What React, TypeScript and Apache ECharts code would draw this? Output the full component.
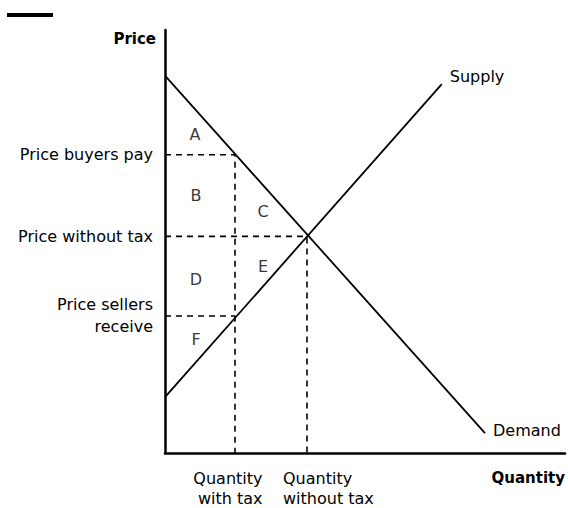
import React, { useEffect, useRef } from "react";
import * as echarts from "echarts";

// Curves (quantity, price) in abstract units 0..100
const demandPoints = [[0, 89.2], [80, 4.7]];
const supplyPoints = [[0, 13.2], [69.2, 87.2]];

// Key prices and quantities
const priceBuyersPay = 70.5;
const priceWithoutTax = 51.2;
const priceSellersReceive = 32.4;
const quantityWithTax = 17.5;
const quantityWithoutTax = 35.5;

const priceTickValues = [priceSellersReceive, priceWithoutTax, priceBuyersPay];
const priceTickLabels = ["Price sellers\nreceive", "Price without tax", "Price buyers pay"];
const quantityWithTaxLabel = ["Quantity", "with tax"];
const quantityWithoutTaxLabel = ["Quantity", "without tax"];

const areaLetters = ["A", "B", "C", "D", "E", "F"];
const areaLetterPositions = [
  [7.5, 75.2],
  [7.75, 60.8],
  [24.5, 57.0],
  [7.75, 41.0],
  [24.5, 44.2],
  [7.75, 26.8],
];

const FONT = "'DejaVu Sans', sans-serif";
const FS = 16;

export default function App() {
  const ref = useRef<HTMLDivElement>(null);
  useEffect(() => {
    if (!ref.current) return;
    const chart = echarts.init(ref.current, null, { renderer: "svg" });
    const dashStyle = { color: "#000", width: 1.6, type: [6, 5] as number[] };
    const dashed = (data: number[][]) => ({
      type: "line",
      data,
      symbol: "none",
      silent: true,
      lineStyle: dashStyle,
      z: 1,
    });
    const baseX = {
      type: "value",
      min: 0,
      max: 100,
      position: "bottom",
      axisTick: { show: false },
      splitLine: { show: false },
    };
    chart.setOption({
      animation: false,
      grid: { left: 165, right: 3, top: 30, bottom: 55 },
      graphic: [
        { type: "rect", left: 7, top: 13, shape: { width: 46, height: 4 }, style: { fill: "#000" } },
      ],
      xAxis: [
        {
          ...baseX,
          axisLine: { show: true, onZero: false, lineStyle: { color: "#000", width: 2.5 } },
          axisLabel: {
            customValues: [quantityWithTax],
            showMinLabel: true,
            showMaxLabel: true,
            margin: 15,
            formatter: () => quantityWithTaxLabel.map((s) => `{l|${s}}`).join("\n"),
            rich: {
              l: {
                fontFamily: FONT,
                fontSize: FS,
                lineHeight: 20,
                color: "#000",
                width: 70,
                align: "right",
                padding: [0, 15, 0, 0],
              },
            },
          },
          name: "Quantity",
          nameLocation: "end",
          nameGap: 0,
          nameTextStyle: {
            fontFamily: FONT,
            fontWeight: "bold",
            fontSize: 15,
            color: "#000",
            align: "right",
            verticalAlign: "top",
            padding: [17, 0, 0, 0],
          },
        },
        {
          ...baseX,
          axisLine: { show: false, onZero: false },
          axisLabel: {
            customValues: [quantityWithoutTax],
            showMinLabel: true,
            showMaxLabel: true,
            margin: 15,
            formatter: () => quantityWithoutTaxLabel.map((s) => `{r|${s}}`).join("\n"),
            rich: {
              r: {
                fontFamily: FONT,
                fontSize: FS,
                lineHeight: 20,
                color: "#000",
                width: 92,
                align: "left",
                padding: [0, 0, 0, 44],
              },
            },
          },
        },
      ],
      yAxis: {
        type: "value",
        min: 0,
        max: 100,
        axisLine: { show: true, onZero: false, lineStyle: { color: "#000", width: 2.5 } },
        axisTick: { show: false },
        splitLine: { show: false },
        axisLabel: {
          customValues: priceTickValues,
          hideOverlap: false,
          showMinLabel: true,
          showMaxLabel: true,
          margin: 12,
          color: "#000",
          fontFamily: FONT,
          fontSize: FS,
          lineHeight: 22,
          align: "right",
          formatter: (v: number) => {
            const i = priceTickValues.indexOf(v);
            return i < 0 ? "" : priceTickLabels[i];
          },
        },
        name: "Price",
        nameLocation: "end",
        nameGap: 0,
        nameTextStyle: {
          fontFamily: FONT,
          fontWeight: "bold",
          fontSize: 15,
          color: "#000",
          align: "right",
          verticalAlign: "top",
          padding: [1, 9, 0, 0],
        },
      },
      series: [
        dashed([[0, priceBuyersPay], [quantityWithTax, priceBuyersPay], [quantityWithTax, 0]]),
        dashed([[0, priceWithoutTax], [quantityWithoutTax, priceWithoutTax], [quantityWithoutTax, 0]]),
        dashed([[0, priceSellersReceive], [quantityWithTax, priceSellersReceive]]),
        {
          type: "line",
          data: demandPoints,
          symbol: "none",
          lineStyle: { color: "#000", width: 1.8 },
          z: 3,
          endLabel: {
            show: true,
            formatter: "Demand",
            color: "#000",
            fontFamily: FONT,
            fontSize: FS,
            distance: 8,
            offset: [0, -3],
          },
        },
        {
          type: "line",
          data: supplyPoints,
          symbol: "none",
          lineStyle: { color: "#000", width: 1.8 },
          z: 3,
          endLabel: {
            show: true,
            formatter: "Supply",
            color: "#000",
            fontFamily: FONT,
            fontSize: FS,
            distance: 8,
            offset: [0, -8],
          },
        },
        {
          type: "scatter",
          symbolSize: 1,
          itemStyle: { color: "rgba(0,0,0,0)" },
          data: areaLetterPositions.map((p, i) => ({ value: p, name: areaLetters[i] })),
          label: {
            show: true,
            position: "inside",
            formatter: "{b}",
            color: "#000",
            textBorderWidth: 0,
            fontFamily: FONT,
            fontSize: FS,
          },
        },
      ],
    });
    return () => chart.dispose();
  }, []);
  return (
    <div
      ref={ref}
      style={{ position: "fixed", left: 0, top: 0, width: 568, height: 508, background: "#fff" }}
    />
  );
}
